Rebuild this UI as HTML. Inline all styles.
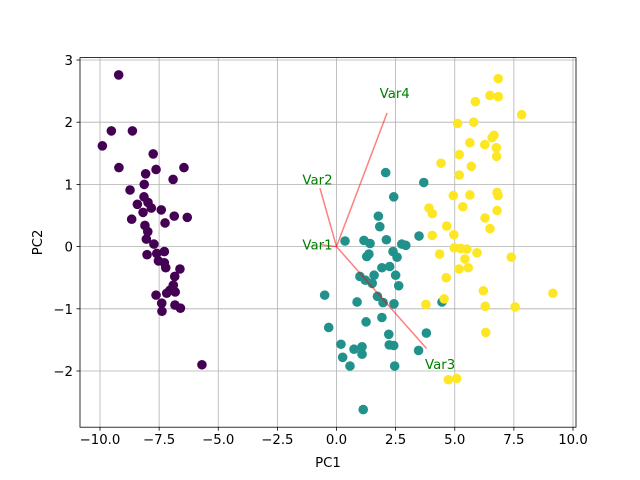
<!DOCTYPE html>
<html><head><meta charset="utf-8"><style>
body{margin:0;background:#fff;}
svg{display:block;font-family:"DejaVu Sans","Liberation Sans",sans-serif;}
</style></head><body>
<svg id="chart" width="640" height="480"></svg>
<script>
const classA_x=[-9.21,-9.52,-8.63,-9.90,-7.75,-9.20,-7.63,-6.45,-8.07,-6.91,-8.13,-8.73,-8.14,-8.42,-7.97,-7.83,-7.41,-8.18,-6.86,-6.31,-8.66,-7.25,-8.10,-7.98,-8.04,-7.72,-7.28,-8.01,-7.60,-7.53,-7.28,-7.22,-6.62,-6.84,-6.90,-7.04,-6.82,-7.63,-7.18,-7.39,-6.83,-6.60,-7.38,-5.69];
const classA_y=[2.76,1.86,1.86,1.62,1.49,1.27,1.24,1.27,1.17,1.08,1.00,0.91,0.80,0.68,0.71,0.62,0.59,0.55,0.49,0.47,0.44,0.38,0.34,0.24,0.12,0.04,-0.08,-0.13,-0.11,-0.23,-0.26,-0.34,-0.36,-0.48,-0.62,-0.70,-0.73,-0.78,-0.75,-0.91,-0.94,-0.99,-1.04,-1.90];
const classB_x=[2.08,3.69,2.42,1.77,1.83,0.36,1.16,1.42,2.11,2.76,2.93,3.49,2.39,2.56,1.37,1.28,1.92,2.25,2.50,0.99,1.22,1.59,1.51,2.63,-0.50,0.87,1.73,1.97,2.43,-0.33,1.25,1.92,3.80,2.21,0.19,1.08,0.74,2.23,2.42,1.08,0.26,3.47,0.57,2.46,1.13,4.46];
const classB_y=[1.19,1.03,0.80,0.49,0.32,0.09,0.10,0.05,0.11,0.04,0.02,0.17,-0.08,-0.17,-0.12,-0.16,-0.34,-0.32,-0.46,-0.48,-0.54,-0.46,-0.59,-0.63,-0.78,-0.89,-0.80,-0.90,-0.92,-1.30,-1.21,-1.14,-1.39,-1.41,-1.57,-1.61,-1.65,-1.58,-1.59,-1.73,-1.78,-1.67,-1.92,-1.92,-2.62,-0.89];
const classC_x=[6.84,6.49,6.84,5.87,7.83,5.12,5.80,6.66,6.58,5.64,6.27,6.76,5.19,6.77,4.42,5.70,5.19,4.94,5.64,6.79,6.83,3.91,4.05,5.34,6.79,6.28,6.49,4.66,4.05,4.96,4.98,5.25,5.51,4.36,5.94,7.39,5.43,5.18,5.57,4.64,6.21,9.15,4.55,3.78,6.29,7.55,6.31,4.73,5.08];
const classC_y=[2.70,2.43,2.41,2.33,2.12,1.98,2.00,1.79,1.75,1.67,1.64,1.59,1.48,1.45,1.34,1.29,1.15,0.82,0.83,0.87,0.82,0.62,0.53,0.64,0.58,0.46,0.29,0.33,0.18,0.19,-0.02,-0.03,-0.04,-0.12,-0.10,-0.17,-0.20,-0.36,-0.34,-0.50,-0.71,-0.75,-0.84,-0.93,-0.96,-0.97,-1.38,-2.14,-2.12];
const vecNames=["Var1","Var2","Var3","Var4"];
const vecX=[-0.70,-0.70,3.81,2.14];
const vecY=[0.03,0.94,-1.64,2.15];
const xTicks=[-10,-7.5,-5,-2.5,0,2.5,5,7.5,10];
const xTickLabels=["−10.0","−7.5","−5.0","−2.5","0.0","2.5","5.0","7.5","10.0"];
const yTicks=[-2,-1,0,1,2,3];
const yTickLabels=["−2","−1","0","1","2","3"];

const NS="http://www.w3.org/2000/svg";
const svg=document.getElementById('chart');
const L=80,R=576,T=57.6,B=427.2;
const sx=v=>336.5+v*23.65;
const sy=v=>246.6-v*62.2;
function mk(tag,attrs,parent){const e=document.createElementNS(NS,tag);for(const k in attrs)e.setAttribute(k,attrs[k]);(parent||svg).appendChild(e);return e;}

const grid=mk('g',{});


xTicks.forEach((t,i)=>{
  const x=sx(t);
  const gl=mk('line',{x1:x,x2:x,y1:T,y2:B,stroke:'#b0b0b0','stroke-width':0.8},grid);
  
  
  mk('line',{x1:x,x2:x,y1:B,y2:B+3.5,stroke:'#000','stroke-width':0.8});
  const tx=mk('text',{x:x,y:B+17,'text-anchor':'middle','font-size':'13.3px',fill:'#000'});
  tx.textContent=xTickLabels[i];
  
  
});
yTicks.forEach((t,i)=>{
  const y=sy(t);
  const gl=mk('line',{x1:L,x2:R,y1:y,y2:y,stroke:'#b0b0b0','stroke-width':0.8},grid);
  
  
  mk('line',{x1:L-3.5,x2:L,y1:y,y2:y,stroke:'#000','stroke-width':0.8});
  const tx=mk('text',{x:L-7,y:y+5,'text-anchor':'end','font-size':'13.3px',fill:'#000'});
  tx.textContent=yTickLabels[i];
  
  
});

function scatter(xs,ys,color,name){
  const g=mk('g',{fill:color});
  
  
  xs.forEach((v,i)=>{
    const c=mk('circle',{cx:sx(v),cy:sy(ys[i]),r:4.8},g);
    
    
  });
}
scatter(classA_x,classA_y,'#440154','class-0-points');
scatter(classB_x,classB_y,'#21918c','class-1-points');
scatter(classC_x,classC_y,'#fde725','class-2-points');

vecNames.forEach((n,i)=>{
  const ln=mk('line',{x1:sx(0),y1:sy(0),x2:sx(vecX[i]),y2:sy(vecY[i]),stroke:'#ff0000','stroke-opacity':0.5,'stroke-width':1.5});
  
  
  const tx=mk('text',{x:sx(vecX[i]*1.15),y:sy(vecY[i]*1.15)+5,'text-anchor':'middle','font-size':'13.3px',fill:'#008000'});
  tx.textContent=n;
  
  
});

const fr=mk('rect',{x:L,y:T,width:R-L,height:B-T,fill:'none',stroke:'#000','stroke-width':0.8});


const xl=mk('text',{x:(L+R)/2,y:467,'text-anchor':'middle','font-size':'13.3px',fill:'#000'});
xl.textContent='PC1';


const yl=mk('text',{x:0,y:0,'text-anchor':'middle','font-size':'13.3px',fill:'#000',transform:'translate(42,'+((T+B)/2)+') rotate(-90)'});
yl.textContent='PC2';


</script>
</body></html>
